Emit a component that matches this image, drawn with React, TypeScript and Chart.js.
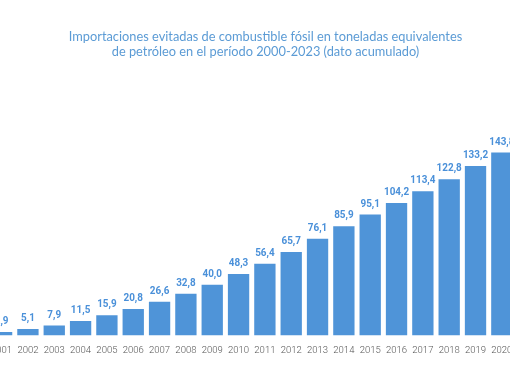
import React, { useEffect, useRef } from "react";
import { Chart, registerables } from "chart.js";

Chart.register(...registerables);

const years = ["2000","2001","2002","2003","2004","2005","2006","2007","2008","2009","2010","2011","2012","2013","2014","2015","2016","2017","2018","2019","2020","2021","2022","2023"];
const values = [1.3, 2.9, 5.1, 7.9, 11.5, 15.9, 20.8, 26.6, 32.8, 40.0, 48.3, 56.4, 65.7, 76.1, 85.9, 95.1, 104.2, 113.4, 122.8, 133.2, 143.8, 153.9, 164.2, 174.8];
const titleLines = [
  "Importaciones evitadas de combustible fósil en toneladas equivalentes",
  "de petróleo en el período 2000-2023 (dato acumulado)",
];

const BAR = "#4f94d8";
const LABEL = "#4a90d9";

const valueLabels = {
  id: "valueLabels",
  afterDatasetsDraw(chart: any) {
    const { ctx } = chart;
    const meta = chart.getDatasetMeta(0);
    ctx.save();
    ctx.fillStyle = LABEL;
    ctx.font = `bold 11px Roboto, sans-serif`;
    ctx.textAlign = "center";
    ctx.textBaseline = "alphabetic";
    meta.data.forEach((bar: any, i: number) => {
      const txt = values[i].toFixed(1).replace(".", ",");
      ctx.save();
      ctx.translate(bar.x, bar.y - 8);
      ctx.scale(0.9, 1);
      ctx.fillText(txt, 0, 0);
      ctx.restore();
    });
    ctx.restore();
  },
};

export default function App() {
  const ref = useRef<HTMLCanvasElement>(null);
  useEffect(() => {
    if (!ref.current) return;
    const chart = new Chart(ref.current, {
      type: "bar",
      data: {
        labels: years,
        datasets: [
          {
            data: values,
            backgroundColor: BAR,
            borderWidth: 0,
            categoryPercentage: 0.81,
            barPercentage: 1,
          },
        ],
      },
      options: {
        animation: false,
        responsive: false,
        maintainAspectRatio: false,
        layout: { padding: { left: 0, right: 0, top: 0, bottom: 17 } },
        plugins: {
          legend: { display: false },
          tooltip: { enabled: false },
          title: {
            display: true,
            text: titleLines,
            color: "#5b9bd5",
            font: { family: "Lato", size: 12.8, weight: "normal", lineHeight: 1.17 },
            padding: { top: 29, bottom: 22 },
          },
        },
        scales: {
          x: {
            grid: { display: false, drawTicks: false },
            border: { display: false },
            ticks: {
              color: "#555",
              font: { family: "Roboto", size: 9.5, weight: "300" },
              padding: 9,
              maxRotation: 0,
              autoSkip: false,
            },
            afterFit: (scale: any) => {
              scale.paddingLeft = 0;
              scale.paddingRight = 0;
            },
          },
          y: {
            display: true,
            min: 0,
            max: 200,
            grid: { display: false, drawTicks: false },
            border: { display: false },
            ticks: { display: false },
            afterFit: (scale: any) => {
              scale.width = 25.1;
              scale.paddingTop = 0;
              scale.paddingBottom = 0;
            },
          },
        },
      },
      plugins: [valueLabels],
    });
    return () => chart.destroy();
  }, []);

  return (
    <div style={{ position: "fixed", left: 0, top: 0, width: 510, height: 382, overflow: "hidden", background: "#fff" }}>
      <div style={{ position: "absolute", left: -63.4, top: 0, width: 657, height: 382 }}>
        <canvas ref={ref} width={657} height={382} style={{ display: "block" }} />
      </div>
    </div>
  );
}
